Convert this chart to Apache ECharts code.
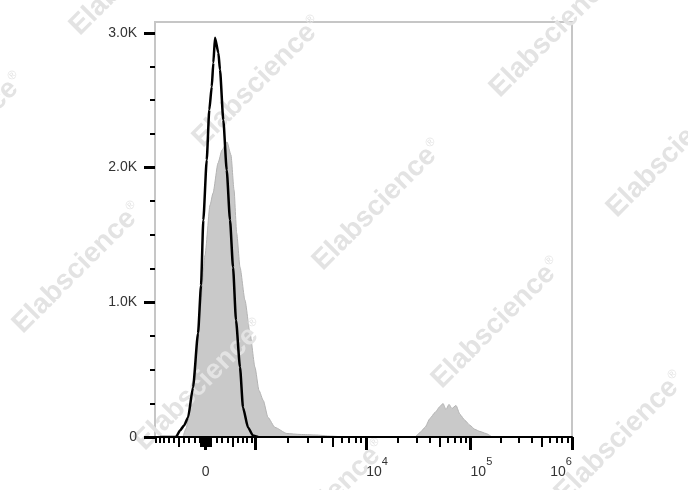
<!DOCTYPE html>
<html><head><meta charset="utf-8">
<script src="https://cdn.jsdelivr.net/npm/echarts@6/dist/echarts.min.js"></script>
<style>html,body{margin:0;padding:0;background:#fff}#c{width:688px;height:490px}</style>
</head><body><div id="c"></div>
<script>
// ---- data (fluorescence intensity, event count) ----
const blackIntensity = [-893, -550, -471, -394, -319, -227, -136, -82, -41, 20, 66, 110, 139, 169, 230, 260, 321, 385, 448, 507, 566, 648, 711, 821, 936, 1059];
const blackCount     = [0, 0, 48, 86, 145, 368, 770, 1126, 1610, 2056, 2428, 2599, 2777, 2963, 2851, 2725, 2353, 1981, 1610, 1260, 866, 517, 219, 71, 11, 0];
const grayIntensity  = [-414, -357, -282, -191, -100, -11, 79, 133, 224, 297, 391, 467, 527, 580, 648, 754, 866, 984, 1084, 1198, 1331, 1547, 1978, 2578, 3495, 4761, 6483,
                        28900, 32300, 36100, 40400, 45100, 50500, 54000, 57700, 61800, 66000, 72300, 79100, 88500, 99100, 110900, 124200, 142200, 162900];
const grayCount      = [0, 63, 197, 494, 941, 1349, 1721, 1810, 2033, 2130, 2190, 2093, 1833, 1513, 1260, 1015, 770, 517, 346, 271, 145, 71, 26, 19, 15, 7, 0,
                        0, 33, 71, 138, 182, 227, 249, 204, 242, 212, 234, 167, 123, 86, 56, 41, 26, 0];
const yMajorTicks = [0, 1000, 2000, 3000];
const yMinorTicks = [250, 500, 750, 1250, 1500, 1750, 2250, 2500, 2750];
const xLabelValues = [0, 1e4, 1e5, 1e6];
const watermarkText = 'Elabscience';

// ---- logicle (biexponential) display transform ----
function makeLogicle(T, W, M, A) {
  const w = W / (M + A), x2 = A / (M + A), x1 = x2 + w, x0 = x2 + 2 * w, b = (M + A) * Math.LN10;
  const g = d => 2 * (Math.log(d) - Math.log(b)) + w * (b + d);
  let lo = 1e-9, hi = b;
  for (let i = 0; i < 200; i++) { const m = (lo + hi) / 2; if (g(m) < 0) lo = m; else hi = m; }
  const d = (lo + hi) / 2;
  const ca = Math.exp(x0 * (b + d));
  const mfa = Math.exp(b * x1) - ca / Math.exp(d * x1);
  const a = T / (Math.exp(b) - mfa - ca / Math.exp(d));
  const f = -mfa * a, c = ca * a;
  const Sp = u => a * Math.exp(b * u) - c * Math.exp(-d * u) + f;
  const S = u => u >= x1 ? Sp(u) : -Sp(2 * x1 - u);
  const fwd = v => { let l = -1, h = 2; for (let i = 0; i < 100; i++) { const m = (l + h) / 2; if (S(m) < v) l = m; else h = m; } return (l + h) / 2; };
  return { S, fwd };
}
const LG = makeLogicle(1e6, 0.5, 4.12, 0);
const X_MIN = 0, X_MAX = 1;
const inRange = u => u >= X_MIN - 1e-9 && u <= X_MAX + 1e-9;

// tick sets (axis scale)
const majorV = [0, 1e3, 1e4, 1e5, 1e6];
const mediumV = [], minorV = [];
for (let k = 1; k <= 9; k++) { mediumV.push(k * 10, -k * 10); }
[1000, 1e4, 1e5].forEach(dec => {
  for (let k = 2; k <= 9; k++) { (k === 5 ? mediumV : minorV).push(k * dec); }
});
for (let k = 1; k <= 9; k++) { (k === 5 ? mediumV : minorV).push(k * 100); }
for (let k = 1; k <= 10; k++) { (k === 5 ? mediumV : minorV).push(-k * 100); }
const toU = arr => arr.map(v => LG.fwd(v)).filter(inRange);
const majorU = toU(majorV), mediumU = toU(mediumV), minorU = toU(minorV);
const labelU = xLabelValues.map(v => LG.fwd(v));

const blackData = blackIntensity.map((v, i) => [LG.fwd(v), blackCount[i]]);
const grayData = grayIntensity.map((v, i) => [LG.fwd(v), grayCount[i]]);

const FONT = 'Liberation Sans, Arial, Helvetica, sans-serif';
const TXT = '#333';

function xLabel(val) {
  let idx = 0, best = Infinity;
  labelU.forEach((p, i) => { const dd = Math.abs(p - val); if (dd < best) { best = dd; idx = i; } });
  const t = xLabelValues[idx];
  if (t === 0) return '{z|0}';
  const e = Math.round(Math.log10(t));
  if (idx === xLabelValues.length - 1) return '{b|10}{s|' + e + '}{sp| }';
  return '{sp| }{b|10}{s|' + e + '}';
}

const baseX = {
  type: 'value', min: X_MIN, max: X_MAX, gridIndex: 0, position: 'bottom', offset: 0,
  splitLine: { show: false }, z: 6
};
const xAxes = [
  Object.assign({}, baseX, {
    axisLine: { show: true, lineStyle: { color: '#000', width: 2 } },
    axisTick: { show: true, customValues: majorU, length: 13, lineStyle: { color: '#000', width: 3 } },
    axisLabel: {
      show: true, customValues: labelU, margin: 24, formatter: xLabel,
      rich: {
        b: { fontSize: 14, lineHeight: 14, padding: [8, 0, 0, 0], color: TXT, fontFamily: FONT },
        s: { fontSize: 11, lineHeight: 10, padding: [0, 0, 12, 0], color: TXT, fontFamily: FONT },
        sp: { width: 22, fontSize: 10, lineHeight: 10 },
        z: { fontSize: 14, lineHeight: 14, padding: [8, 0, 0, 0], color: TXT, fontFamily: FONT }
      }
    }
  }),
  Object.assign({}, baseX, {
    axisLine: { show: false },
    axisTick: { show: true, customValues: mediumU, length: 10, lineStyle: { color: '#000', width: 2 } },
    axisLabel: { show: false }
  }),
  Object.assign({}, baseX, {
    axisLine: { show: false },
    axisTick: { show: true, customValues: minorU, length: 6, lineStyle: { color: '#000', width: 2 } },
    axisLabel: { show: false }
  })
];

const baseY = { type: 'value', min: 0, max: 3080, gridIndex: 0, position: 'left', offset: 0, splitLine: { show: false }, z: 6 };
const yAxes = [
  Object.assign({}, baseY, {
    axisLine: { show: false },
    axisTick: { show: true, customValues: yMajorTicks, length: 11, lineStyle: { color: '#000', width: 3 } },
    axisLabel: {
      show: true, customValues: yMajorTicks, margin: 18, fontSize: 14, color: TXT, fontFamily: FONT,
      formatter: v => v === 0 ? '0' : (v / 1000).toFixed(1) + 'K'
    }
  }),
  Object.assign({}, baseY, {
    axisLine: { show: false },
    axisTick: { show: true, customValues: yMinorTicks, length: 5, lineStyle: { color: '#000', width: 2 } },
    axisLabel: { show: false }
  })
];

const wmCenters = [[135, -30], [-40, 138], [258, 82], [378, 205], [497, 323], [620, 437], [555, 32], [672, 152], [78, 268], [200, 385], [322, 505]];
const graphics = wmCenters.map(p => ({
  type: 'text', x: p[0], y: p[1], rotation: Math.PI / 4, z: 3, silent: true,
  style: {
    text: '{a|' + watermarkText + '}{r|®}',
    rich: {
      a: { fontSize: 28, fontWeight: 'bold', fontFamily: FONT, fill: '#e3e3e3', lineHeight: 32 },
      r: { fontSize: 12, fontWeight: 'normal', fontFamily: FONT, fill: '#e3e3e3', lineHeight: 12, padding: [0, 0, 14, 1] }
    },
    align: 'center', verticalAlign: 'middle'
  }
}));

const chart = echarts.init(document.getElementById('c'), null, { renderer: 'canvas' });
chart.setOption({
  animation: false,
  backgroundColor: '#fff',
  grid: { left: 155, top: 22, right: 116, bottom: 53, show: true, borderColor: '#c6c6c6', borderWidth: 2, backgroundColor: 'transparent' },
  xAxis: xAxes,
  yAxis: yAxes,
  graphic: graphics,
  series: [
    {
      type: 'line', data: grayData, xAxisIndex: 0, yAxisIndex: 0, showSymbol: false, z: 2,
      smooth: 0.2, smoothMonotone: 'x',
      lineStyle: { color: '#b3b3b3', width: 1 },
      areaStyle: { color: '#c9c9c9', opacity: 1 }
    },
    {
      type: 'line', data: blackData, xAxisIndex: 0, yAxisIndex: 0, showSymbol: false, z: 4,
      smooth: 0.2, smoothMonotone: 'x',
      lineStyle: { color: '#000', width: 2.5 }
    }
  ]
});
</script>
</body></html>
